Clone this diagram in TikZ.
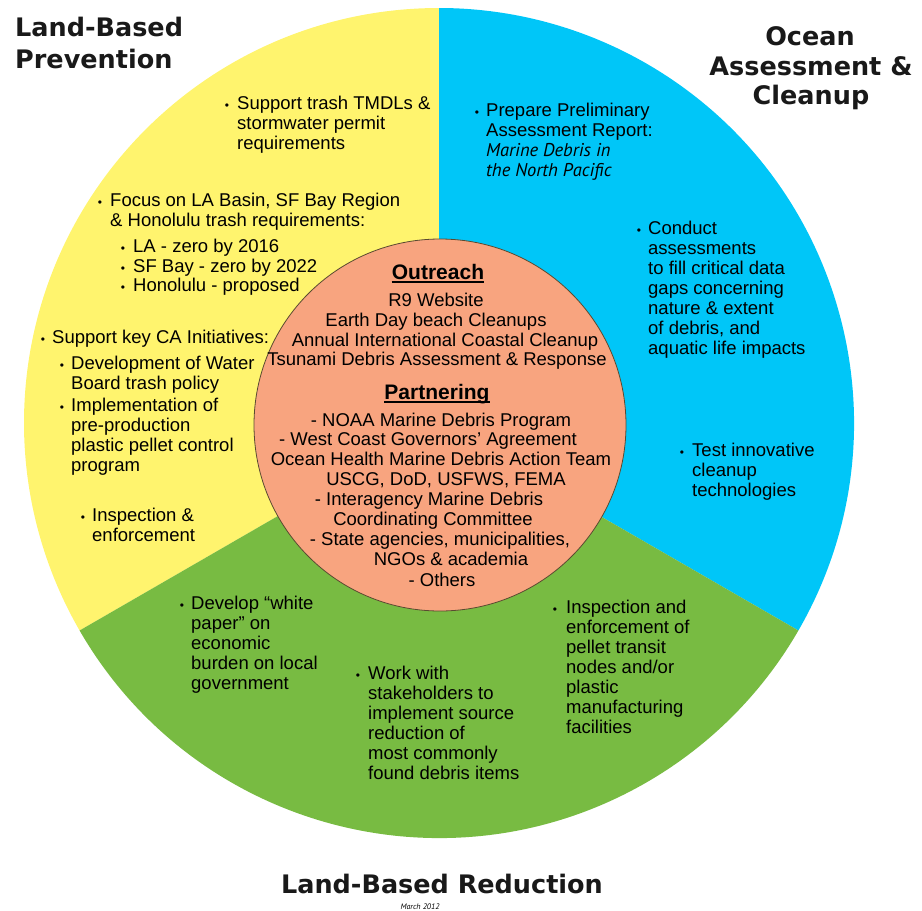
\documentclass[tikz,border=0pt]{standalone}
\usepackage{fontspec}
\setmainfont{Liberation Sans}
\newfontfamily\ttlfont{DejaVu Sans}
\newfontfamily\myrfont{PT Sans}
\definecolor{cyel}{HTML}{FFF46E}
\definecolor{cblue}{HTML}{00C6F8}
\definecolor{cgreen}{HTML}{78BB42}
\definecolor{csalmon}{HTML}{F8A47F}
\definecolor{cedge}{HTML}{5A4A30}
\tikzset{
  txt/.style={anchor=base west, inner sep=0pt, font=\fontsize{18.5}{20}\selectfont},
  ctxt/.style={anchor=base, inner sep=0pt, font=\fontsize{18.5}{20}\selectfont},
  hdr/.style={anchor=base, inner sep=0pt, font=\bfseries\fontsize{21}{24}\selectfont},
  bul/.style={anchor=base, inner sep=0pt, font=\fontsize{12}{12}\selectfont},
  ttl/.style={inner sep=0pt, text=black!90, font=\ttlfont\bfseries\fontsize{25.5}{30}\selectfont},
}
\newcommand\mkblock[5]{%
  \node[bul] (#1b) at (#2,#4) {\textbullet};
  \foreach \t [count=\i] in {#5} {\node[txt] (#1l\i) at (#3,{#4+20*(\i-1)}) {\t};}
}
\begin{document}
\begin{tikzpicture}[x=1pt,y=-1pt]
\path[use as bounding box] (0,0) rectangle (922,911);
% sectors
\fill[cyel] (439,423) -- (439,8) arc[start angle=90, end angle=210, radius=415pt] -- cycle;
\fill[cblue] (439,423) -- (798.4,630.5) arc[start angle=-30, end angle=90, radius=415pt] -- cycle;
\fill[cgreen] (439,423) -- (79.6,630.5) arc[start angle=210, end angle=330, radius=415pt] -- cycle;
% inner circle
\node[circle, minimum size=372pt, inner sep=0pt, fill=csalmon, draw=cedge, line width=0.8pt] (inner) at (440,425) {};
% titles
\node[ttl, anchor=base west] (t1) at (15,36) {Land-Based};
\node[ttl, anchor=base west] (t2) at (15,68) {Prevention};
\node[ttl, anchor=base] (t3) at (810,45) {Ocean};
\node[ttl, anchor=base] (t4) at (811,75) {Assessment \&};
\node[ttl, anchor=base] (t5) at (811,104) {Cleanup};
\node[ttl, anchor=base] (t6) at (442,893) {Land-Based Reduction};
\node[anchor=base, inner sep=0pt, font=\myrfont\itshape\fontsize{8}{8}\selectfont] (date) at (420,909) {March 2012};
% yellow sector
\mkblock{a}{227}{237}{109}{Support trash TMDLs \&, stormwater permit, requirements}
\mkblock{b}{100}{110}{206}{{Focus on LA Basin, SF Bay Region}, \& Honolulu trash requirements:}
\mkblock{c}{123}{133}{252}{LA - zero by 2016}
\mkblock{d}{123}{133}{272}{SF Bay - zero by 2022}
\mkblock{e}{123}{133}{291}{Honolulu - proposed}
\mkblock{f}{43}{52}{343}{Support key CA Initiatives:}
\mkblock{g}{62}{71}{369}{Development of Water, Board trash policy}
\mkblock{h}{62}{71}{411}{Implementation of, pre-production, plastic pellet control, program}
\mkblock{i}{83}{92}{521}{Inspection \&, enforcement}
% blue sector
\mkblock{j}{477}{486}{116}{Prepare Preliminary, Assessment Report:, {\myrfont\itshape Marine Debris in}, {\myrfont\itshape the North Pacific}}
\mkblock{k}{639}{648}{234}{Conduct, assessments, to fill critical data, gaps concerning, nature \& extent, {of debris, and}, aquatic life impacts}
\mkblock{l}{682}{692}{456}{Test innovative, cleanup, technologies}
% green sector
\mkblock{m}{182}{191}{609}{Develop “white, paper” on, economic, burden on local, government}
\mkblock{n}{358}{368}{679}{Work with, stakeholders to, implement source, reduction of, most commonly, found debris items}
\mkblock{o}{555}{566}{613}{Inspection and, enforcement of, pellet transit, nodes and/or, plastic, manufacturing, facilities}
% center
\node[hdr] (outr) at (438,279) {Outreach};
\draw[line width=1.3pt] ([yshift=-3pt]outr.base west) -- ([yshift=-3pt]outr.base east);
\node[hdr] (partn) at (437,399) {Partnering};
\draw[line width=1.3pt] ([yshift=-3pt]partn.base west) -- ([yshift=-3pt]partn.base east);
\foreach \x/\y/\t [count=\i] in {436/306/R9 Website, 436/326/Earth Day beach Cleanups, 445/346/Annual International Coastal Cleanup, 437/365/Tsunami Debris Assessment \& Response, 441/426/- NOAA Marine Debris Program, 428/445/- West Coast Governors’ Agreement, 441/465/Ocean Health Marine Debris Action Team, 446/485/{USCG, DoD, USFWS, FEMA}, 429/505/- Interagency Marine Debris, 433/525/Coordinating Committee, 440/545/{- State agencies, municipalities,}, 451/565/NGOs \& academia, 442/586/- Others}
  {\node[ctxt] (cl\i) at (\x,\y) {\t};}
\end{tikzpicture}
\end{document}
